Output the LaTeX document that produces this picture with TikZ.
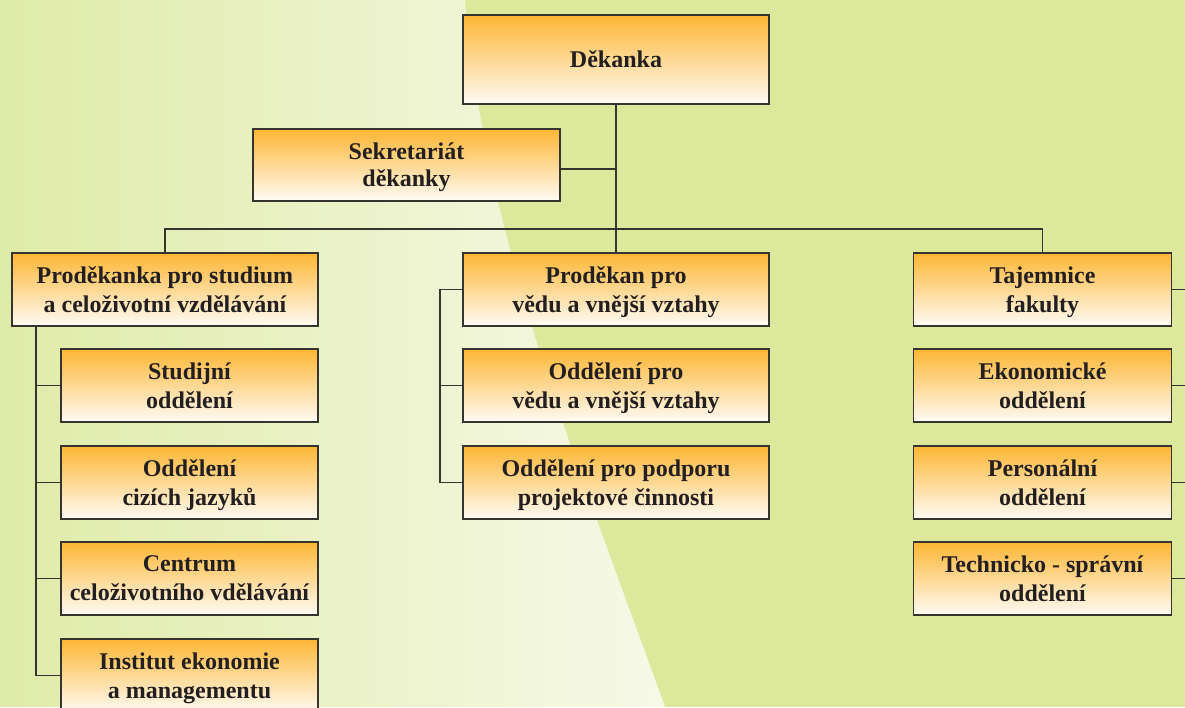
\documentclass[tikz,border=0pt]{standalone}
\usepackage{fontspec}
\setmainfont{Liberation Serif}
\usetikzlibrary{calc}
\definecolor{meadow}{RGB}{220, 232, 155}
\definecolor{paleL} {RGB}{223, 235, 168}
\definecolor{paleR} {RGB}{246, 249, 232}
\definecolor{boxTop}{RGB}{253, 182, 52}
\definecolor{boxBot}{RGB}{255, 251, 244}
\definecolor{frame} {RGB}{55, 52, 48}
\definecolor{ink}   {RGB}{35, 31, 32}

\begin{document}
\begin{tikzpicture}[x=1pt, y=-1pt,
  unit/.style={draw=frame, line width=1.2pt, top color=boxTop, bottom color=boxBot,
    text=ink, align=center, inner sep=0pt, minimum height=73pt, text depth=0pt,
    font=\bfseries\fontsize{24}{29}\selectfont},
  wide/.style={unit, minimum width=306pt},
  narrow/.style={unit, minimum width=257pt},
  link/.style={draw=frame, line width=1.1pt}]

  \useasboundingbox (0,0) rectangle (1185,707);
  \clip (0,0) rectangle (1185,707);

  \fill[meadow] (0,0) rectangle (1185,707);
  \shade[left color=paleL, right color=paleR]
    (0,0) -- (465,0) .. controls (484,236) and (580,471) .. (665,707) -- (0,707) -- cycle;

  \node[wide, minimum height=89pt] (dek) at (616,59.5) {Děkanka};
  \node[wide, minimum width=307pt, minimum height=72pt,
        font=\bfseries\fontsize{24}{27}\selectfont] (sek) at (406.5,165) {Sekretariát\\děkanky};

  \node[wide]   (pds) at (165,289.5)    {Proděkanka pro studium\\a celoživotní vzdělávání};
  \node[wide]   (pdv) at (616,289.5)    {Proděkan pro\\vědu a vnější vztahy};
  \node[narrow, minimum width=258pt] (taj) at (1042.5,289.5) {Tajemnice\\fakulty};

  \node[narrow] (stu) at (189.5,385.5) {Studijní\\oddělení};
  \node[narrow] (jaz) at (189.5,482.5) {Oddělení\\cizích jazyků};
  \node[narrow] (cen) at (189.5,578.5) {Centrum\\celoživotního vdělávání};
  \node[narrow] (iem) at (189.5,675.5) {Institut ekonomie\\a managementu};

  \node[wide]   (ovv) at (616,385.5)    {Oddělení pro\\vědu a vnější vztahy};
  \node[wide]   (opp) at (616,482.5)    {Oddělení pro podporu\\projektové činnosti};

  \node[narrow, minimum width=258pt] (eko) at (1042.5,385.5) {Ekonomické\\oddělení};
  \node[narrow, minimum width=258pt] (per) at (1042.5,482.5) {Personální\\oddělení};
  \node[narrow, minimum width=258pt] (tec) at (1042.5,578.5) {Technicko - správní\\oddělení};

  \coordinate (bus)  at (616,229);
  \coordinate (lrail) at (36,326);
  \coordinate (mrail) at (440,289.5);
  \coordinate (rrail) at (1197,289.5);
  \coordinate (sekout) at ([yshift=-4pt]sek.east);

  \draw[link] (dek.south) -- (pdv.north);
  \draw[link] (sekout) -- (sekout -| bus);
  \draw[link] (pds.north) |- (bus) -| (taj.north);

  \draw[link] (lrail) |- (stu.west);
  \draw[link] (lrail) |- (jaz.west);
  \draw[link] (lrail) |- (cen.west);
  \draw[link] (lrail) |- (iem.west);

  \draw[link] (pdv.west) -- (mrail) |- (ovv.west);
  \draw[link] (mrail) |- (opp.west);

  \draw[link] (taj.east) -- (rrail) |- (eko.east);
  \draw[link] (rrail) |- (per.east);
  \draw[link] (rrail) |- (tec.east);

\end{tikzpicture}
\end{document}
